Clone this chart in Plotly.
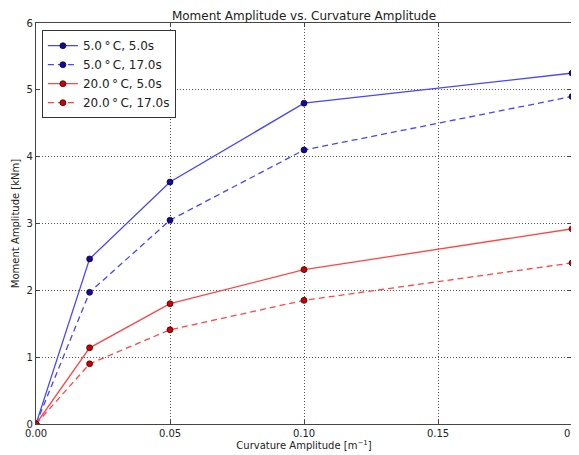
import plotly.graph_objects as go

curvature = [0.0, 0.02, 0.05, 0.10, 0.20]
blue_5s = [0.0, 2.47, 3.62, 4.80, 5.25]
blue_17s = [0.0, 1.97, 3.05, 4.10, 4.90]
red_5s = [0.0, 1.14, 1.80, 2.31, 2.92]
red_17s = [0.0, 0.90, 1.41, 1.85, 2.41]
names = ["5.0\u2009\u00b0\u2009C, 5.0s", "5.0\u2009\u00b0\u2009C, 17.0s",
         "20.0\u2009\u00b0\u2009C, 5.0s", "20.0\u2009\u00b0\u2009C, 17.0s"]
x_ticks = [0.0, 0.05, 0.10, 0.15, 0.20]
x_ticktext = ["0.00", "0.05", "0.10", "0.15", "0.2"]
y_ticks = [0, 1, 2, 3, 4, 5, 6]

series = [
    (blue_5s, "#4646ff", "#0a0aa8", "solid"),
    (blue_17s, "#4646ff", "#0a0aa8", "6px,4px"),
    (red_5s, "#ff4646", "#d00000", "solid"),
    (red_17s, "#ff4646", "#d00000", "6px,4px"),
]

fig = go.Figure()
for (vals, lc, mc, dash), name in zip(series, names):
    fig.add_trace(go.Scatter(
        x=curvature, y=vals, mode="lines+markers", name=name,
        line=dict(color=lc, width=1.3, dash=dash),
        marker=dict(color=mc, size=6, line=dict(color="#200000", width=0.7)),
    ))

axis_common = dict(
    showline=True, linecolor="#444", linewidth=1.3, mirror="ticks",
    ticks="inside", ticklen=4, tickcolor="#444",
    showgrid=True, gridcolor="#555", griddash="1px,2px", gridwidth=1,
    zeroline=False, tickfont=dict(size=10, color="#222"),
    ticklabeloverflow="allow",
)

# page body adds an 8px offset; figure sized/margined to compensate
fig.update_layout(
    width=571, height=447,
    paper_bgcolor="white", plot_bgcolor="white",
    font=dict(family="DejaVu Sans", color="#222"),
    margin=dict(l=28, r=7, t=15, b=31, autoexpand=False),
    title=dict(text="Moment Amplitude vs. Curvature Amplitude", x=0.5, xref="paper",
               xanchor="center", y=1, yref="paper", yanchor="bottom",
               pad=dict(b=3), font=dict(size=12)),
    xaxis=dict(range=[0, 0.2], tickvals=x_ticks, ticktext=x_ticktext,
               title=dict(text="Curvature Amplitude [m<sup>\u22121</sup>]", font=dict(size=10), standoff=2),
               **axis_common),
    yaxis=dict(range=[0, 6], tickvals=y_ticks,
               title=dict(text="Moment Amplitude [kNm]", font=dict(size=10), standoff=4),
               **axis_common),
    legend=dict(x=0.011, y=0.982, xanchor="left", yanchor="top",
                bordercolor="#333", borderwidth=1, bgcolor="white",
                font=dict(size=12), tracegroupgap=0, itemwidth=30),
    showlegend=True,
)

fig.write_html("out.html")
